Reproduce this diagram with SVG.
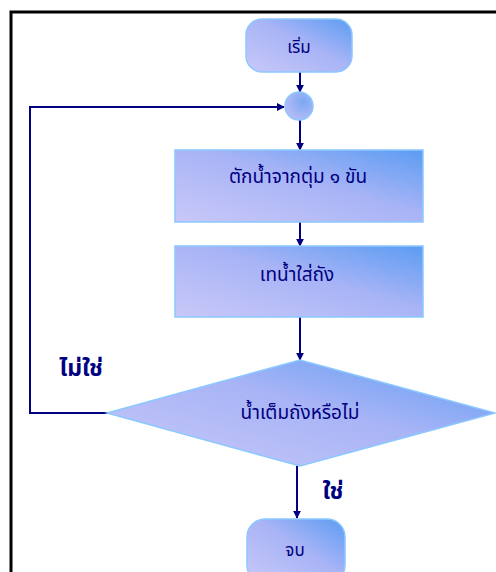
<svg xmlns="http://www.w3.org/2000/svg" width="496" height="572" viewBox="0 0 496 572">
  <style>
    .shape { stroke: #8cc8ff; stroke-width: 1.5; }
    .lbl { font-family: "Noto Sans Thai", "Tahoma", "DejaVu Sans", sans-serif; font-size: 19px; fill: #000080; text-anchor: middle; }
    .branch { font-size: 23px; font-weight: bold; }
    .edge { fill: none; stroke: #000080; stroke-width: 2; }
  </style>
  <defs>
    <linearGradient id="fillBlue" x1="0" y1="1" x2="1" y2="0">
      <stop offset="0" stop-color="#c8c8f8"/>
      <stop offset="0.55" stop-color="#a8b4f6"/>
      <stop offset="1" stop-color="#5c9cf2"/>
    </linearGradient>
    <radialGradient id="fillCircle" cx="0.65" cy="0.35" r="0.7">
      <stop offset="0" stop-color="#7aa8f4"/>
      <stop offset="1" stop-color="#b8bcf6"/>
    </radialGradient>
    <marker id="arrow" viewBox="0 0 10 10" refX="9" refY="5" markerWidth="4" markerHeight="4" orient="auto">
      <path d="M0,0 L10,5 L0,10 z" fill="#000080"/>
    </marker>
  </defs>

  <rect width="496" height="572" fill="#ffffff"/>
  <!-- page frame -->
  <path d="M11,572 V12 H496" fill="none" stroke="#000000" stroke-width="3"/>

  <!-- connectors -->
  <g id="connectors">
    <line class="edge" x1="300" y1="72" x2="300" y2="92" marker-end="url(#arrow)"/>
    <line class="edge" x1="300" y1="120" x2="300" y2="150" marker-end="url(#arrow)"/>
    <line class="edge" x1="300" y1="222" x2="300" y2="246" marker-end="url(#arrow)"/>
    <line class="edge" x1="300" y1="317" x2="300" y2="360" marker-end="url(#arrow)"/>
    <line class="edge" x1="297" y1="466" x2="297" y2="518" marker-end="url(#arrow)"/>
    <path class="edge" d="M108,413 H30 V107 H284" marker-end="url(#arrow)"/>
  </g>

  <g id="start">
    <rect class="shape" x="246" y="19" width="106" height="53" rx="16" fill="url(#fillBlue)"/>
    <text class="lbl" x="299" y="53" style="font-size:17px">เริ่ม</text>
  </g>

  <g id="join">
    <circle class="shape" cx="299" cy="106" r="14" fill="url(#fillCircle)"/>
  </g>

  <g id="scoop">
    <rect class="shape" x="175" y="150" width="248" height="72" fill="url(#fillBlue)"/>
    <text class="lbl" x="298" y="183">ตักน้ำจากตุ่ม ๑ ขัน</text>
  </g>

  <g id="pour">
    <rect class="shape" x="175" y="246" width="248" height="71" fill="url(#fillBlue)"/>
    <text class="lbl" x="297" y="281">เทน้ำใส่ถัง</text>
  </g>

  <g id="check">
    <polygon class="shape" points="300,360 495,413 300,466 107,413" fill="url(#fillBlue)"/>
    <text class="lbl" x="300" y="419">น้ำเต็มถังหรือไม่</text>
  </g>

  <g id="end">
    <rect class="shape" x="247" y="519" width="98" height="64" rx="18" fill="url(#fillBlue)"/>
    <text class="lbl" x="295" y="556" style="font-size:17px">จบ</text>
  </g>

  <!-- branch labels -->
  <text class="lbl branch" x="81" y="376">ไม่ใช่</text>
  <text class="lbl branch" x="333" y="499">ใช่</text>
</svg>
